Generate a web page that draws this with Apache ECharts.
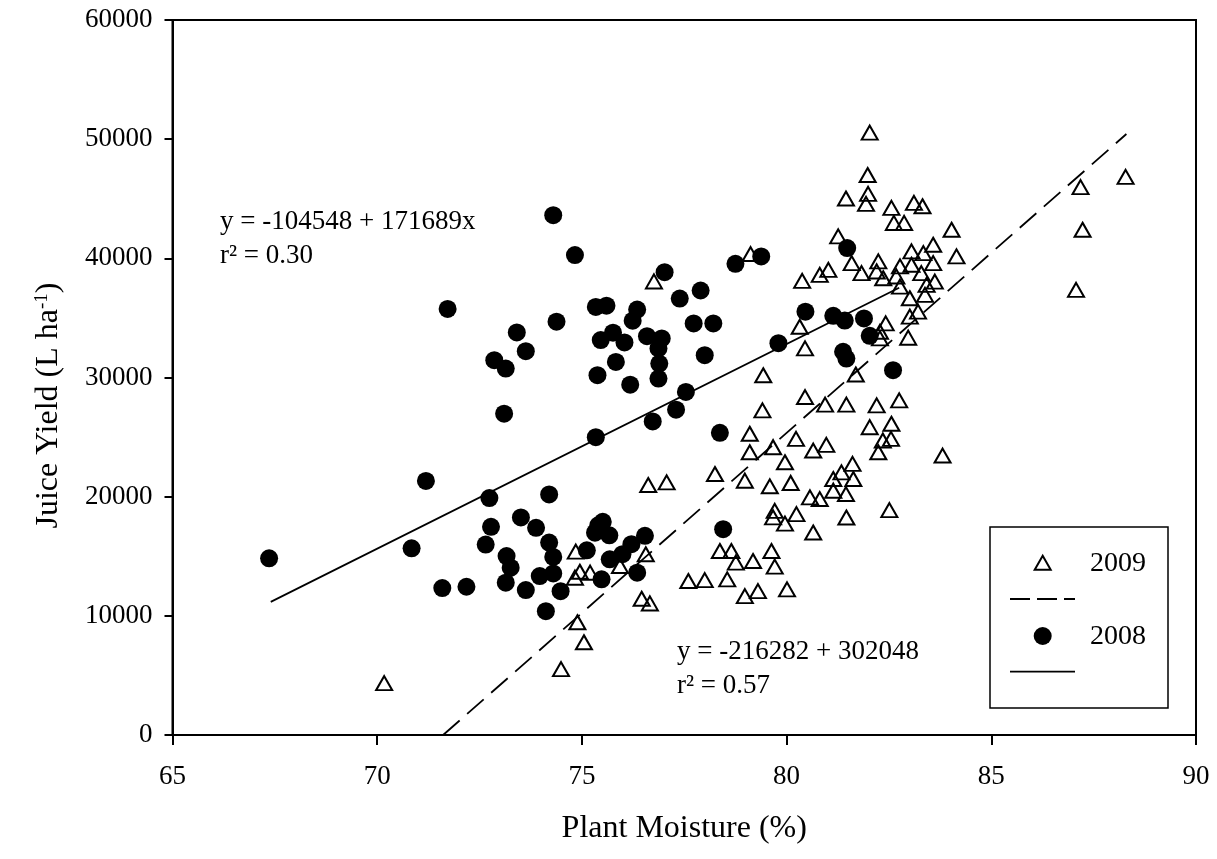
<!DOCTYPE html>
<html>
<head>
<meta charset="utf-8">
<script src="https://cdn.jsdelivr.net/npm/echarts@6/dist/echarts.min.js"></script>
<style>html,body{margin:0;padding:0;background:#fff;}#c{width:1217px;height:859px;}</style>
</head>
<body>
<div id="c"></div>
<script>
// 2008 (filled circles)
const x2008 = [67.36,71.72,74.30,74.38,73.41,73.63,72.86,73.14,73.10,71.19,72.74,74.20,72.78,73.51,73.88,74.20,72.65,73.16,74.30,73.26,73.14,73.97,74.30,73.63,74.48,74.12,71.59,72.18,70.84,75.12,74.83,77.02,78.75,79.38,77.39,77.90,75.34,75.60,76.35,76.24,77.73,78.21,75.46,75.76,76.04,76.59,76.95,76.87,76.89,76.87,75.83,75.38,76.18,78.00,80.46,79.80,77.54,77.30,76.73,75.34,78.37,81.14,81.42,81.89,81.38,81.46,78.45,75.51,75.32,75.67,76.21,76.54,75.99,75.68,75.48,76.35,81.48,82.03,82.60,75.40];
const y2008 = [14830,35750,43620,34680,33780,32210,31450,30750,26960,21320,19880,20190,17470,18260,17390,16150,15980,15020,14940,14040,12780,13340,13560,12160,12070,10390,12330,12440,15670,15500,40270,38840,39540,40160,36620,37300,35920,36030,35700,34770,34540,34540,33140,33760,32940,33470,33280,32440,31170,29910,31310,30190,29400,31870,35520,32880,28790,27300,26310,24990,25360,35180,34780,34960,32160,31590,17270,17890,16980,16760,16010,16710,15170,14740,13060,13620,40860,33500,30610,17600];
// 2009 (open triangles)
const x2009 = [70.17,74.49,74.89,75.05,74.85,74.83,74.95,75.20,75.93,76.56,76.46,76.66,76.62,77.07,76.76,77.60,78.00,78.55,78.98,79.30,80.01,78.37,78.65,78.76,79.18,79.63,79.71,78.25,78.98,79.59,80.10,80.57,80.81,79.71,79.67,79.96,80.24,80.65,79.41,79.10,79.10,79.67,80.23,79.96,80.65,80.97,79.43,80.45,80.94,81.46,81.69,80.32,80.45,79.12,80.38,80.81,81.02,81.14,81.34,81.61,81.63,81.45,81.14,81.46,82.03,81.98,81.99,81.45,81.94,82.56,83.11,83.32,82.62,82.87,84.03,84.15,81.26,81.59,81.83,82.24,82.20,82.36,82.68,82.77,83.05,83.05,83.34,83.58,83.58,83.29,83.42,83.62,83.01,82.77,83.38,83.21,83.01,82.97,82.42,82.28,82.28,82.20,82.75,82.03,82.56,82.35,82.55,82.24,83.81,82.51,87.18,88.28,87.23,87.07];
const y2009 = [4350,5530,9460,7780,15390,13200,13700,13620,14180,15170,11430,11040,20980,21200,38060,12920,13000,13060,11650,12070,12220,15440,15440,14460,14600,15440,14130,21900,21340,20870,21150,19940,19800,18810,18260,17740,18540,16990,27240,25280,23730,24150,24850,22890,23870,24350,30190,28360,27720,27720,30250,34260,32440,40360,38110,38610,39030,21480,22040,22750,21480,20220,20500,18250,50550,46990,45410,45020,44570,44230,44650,44370,42970,42970,42400,40160,41840,39600,38760,39740,38900,38330,38480,39320,40580,39460,40440,41140,39600,38760,37770,38050,36650,37630,36930,35530,35110,33340,34540,33840,33280,27660,28080,25830,26120,24710,24850,23730,23450,18870,45980,46840,42400,37350];
// regression line end points
const fit2008X = [67.4, 82.75];
const fit2008Y = [11170, 37530];
const fit2009X = [71.61, 88.3];
const fit2009Y = [0, 50430];
// axis ticks
const xTicks = [65, 70, 75, 80, 85, 90];
const yTicks = [0, 10000, 20000, 30000, 40000, 50000, 60000];
// texts
const eq2008 = ['y = -104548 + 171689x', 'r\u00B2 = 0.30'];
const eq2009 = ['y = -216282 + 302048', 'r\u00B2 = 0.57'];
const legendNames = ['2009', '2008'];

const zip = (a, b) => a.map((v, i) => [v, b[i]]);
const FONT = '"Liberation Serif", "Times New Roman", serif';

const chart = echarts.init(document.getElementById('c'), null, {renderer: 'canvas'});
const txt = (text, x, y, size) => ({
  type: 'text', x: x, y: y, silent: true,
  style: {text: text, font: size + 'px ' + FONT, fill: '#000', textVerticalAlign: 'middle', textAlign: 'left'}
});

chart.setOption({
  animation: false,
  backgroundColor: '#fff',
  grid: {left: 172.5, right: 21, top: 20, bottom: 124, show: true, borderColor: '#000', borderWidth: 2, backgroundColor: 'transparent'},
  xAxis: {
    type: 'value', min: xTicks[0], max: xTicks[xTicks.length - 1], interval: 5,
    name: 'Plant Moisture (%)', nameLocation: 'middle', nameGap: 78,
    nameTextStyle: {fontFamily: FONT, fontSize: 32, color: '#000'},
    axisLine: {show: true, onZero: false, lineStyle: {color: '#000', width: 2}},
    axisTick: {show: true, inside: false, length: 10, lineStyle: {color: '#000', width: 2}},
    axisLabel: {fontFamily: FONT, fontSize: 27, color: '#000', margin: 28, formatter: v => String(v)},
    splitLine: {show: false}
  },
  yAxis: {
    type: 'value', min: yTicks[0], max: yTicks[yTicks.length - 1], interval: 10000,
    name: 'Juice Yield (L ha{sup|-1})', nameLocation: 'middle', nameGap: 108,
    nameTextStyle: {fontFamily: FONT, fontSize: 32, color: '#000', padding: [0, 56, 0, 0],
      rich: {sup: {fontFamily: FONT, fontSize: 19, color: '#000', verticalAlign: 'top'}}},
    axisLine: {show: true, onZero: false, lineStyle: {color: '#000', width: 2}},
    axisTick: {show: true, inside: false, length: 8, lineStyle: {color: '#000', width: 2}},
    axisLabel: {fontFamily: FONT, fontSize: 27, color: '#000', margin: 20, formatter: v => String(v)},
    splitLine: {show: false}
  },
  series: [
    {type: 'line', name: '2008 fit', data: zip(fit2008X, fit2008Y), symbol: 'none', silent: true,
      lineStyle: {color: '#000', width: 1.8, type: 'solid'}, z: 2},
    {type: 'line', name: '2009 fit', data: zip(fit2009X, fit2009Y), symbol: 'none', silent: true,
      lineStyle: {color: '#000', width: 1.8, type: [22, 10]}, z: 2},
    {type: 'scatter', name: legendNames[0], data: zip(x2009, y2009), symbol: 'triangle', symbolSize: [16, 14], silent: true,
      itemStyle: {color: 'rgba(0,0,0,0)', borderColor: '#000', borderWidth: 2, opacity: 1}, z: 3},
    {type: 'scatter', name: legendNames[1], data: zip(x2008, y2008), symbol: 'circle', symbolSize: 18, silent: true,
      itemStyle: {color: '#000', opacity: 1}, z: 4}
  ],
  graphic: [
    txt(eq2008[0], 220, 222, 27),
    txt(eq2008[1], 220, 256, 27),
    txt(eq2009[0], 677, 652, 27),
    txt(eq2009[1], 677, 686, 27),
    {type: 'rect', silent: true, shape: {x: 990, y: 527, width: 178, height: 181},
      style: {fill: '#fff', stroke: '#000', lineWidth: 1.5}},
    {type: 'polygon', silent: true, shape: {points: [[1042.7, 555.7], [1050.7, 569.7], [1034.7, 569.7]]},
      style: {fill: 'none', stroke: '#000', lineWidth: 2}},
    txt(legendNames[0], 1090, 564, 28),
    {type: 'line', silent: true, shape: {x1: 1010, y1: 599, x2: 1075, y2: 599},
      style: {stroke: '#000', lineWidth: 1.8, lineDash: [20, 7]}},
    {type: 'circle', silent: true, shape: {cx: 1042.7, cy: 636, r: 9}, style: {fill: '#000'}},
    txt(legendNames[1], 1090, 637, 28),
    {type: 'line', silent: true, shape: {x1: 1010, y1: 671.7, x2: 1075, y2: 671.7},
      style: {stroke: '#000', lineWidth: 1.8}}
  ]
});
</script>
</body>
</html>
